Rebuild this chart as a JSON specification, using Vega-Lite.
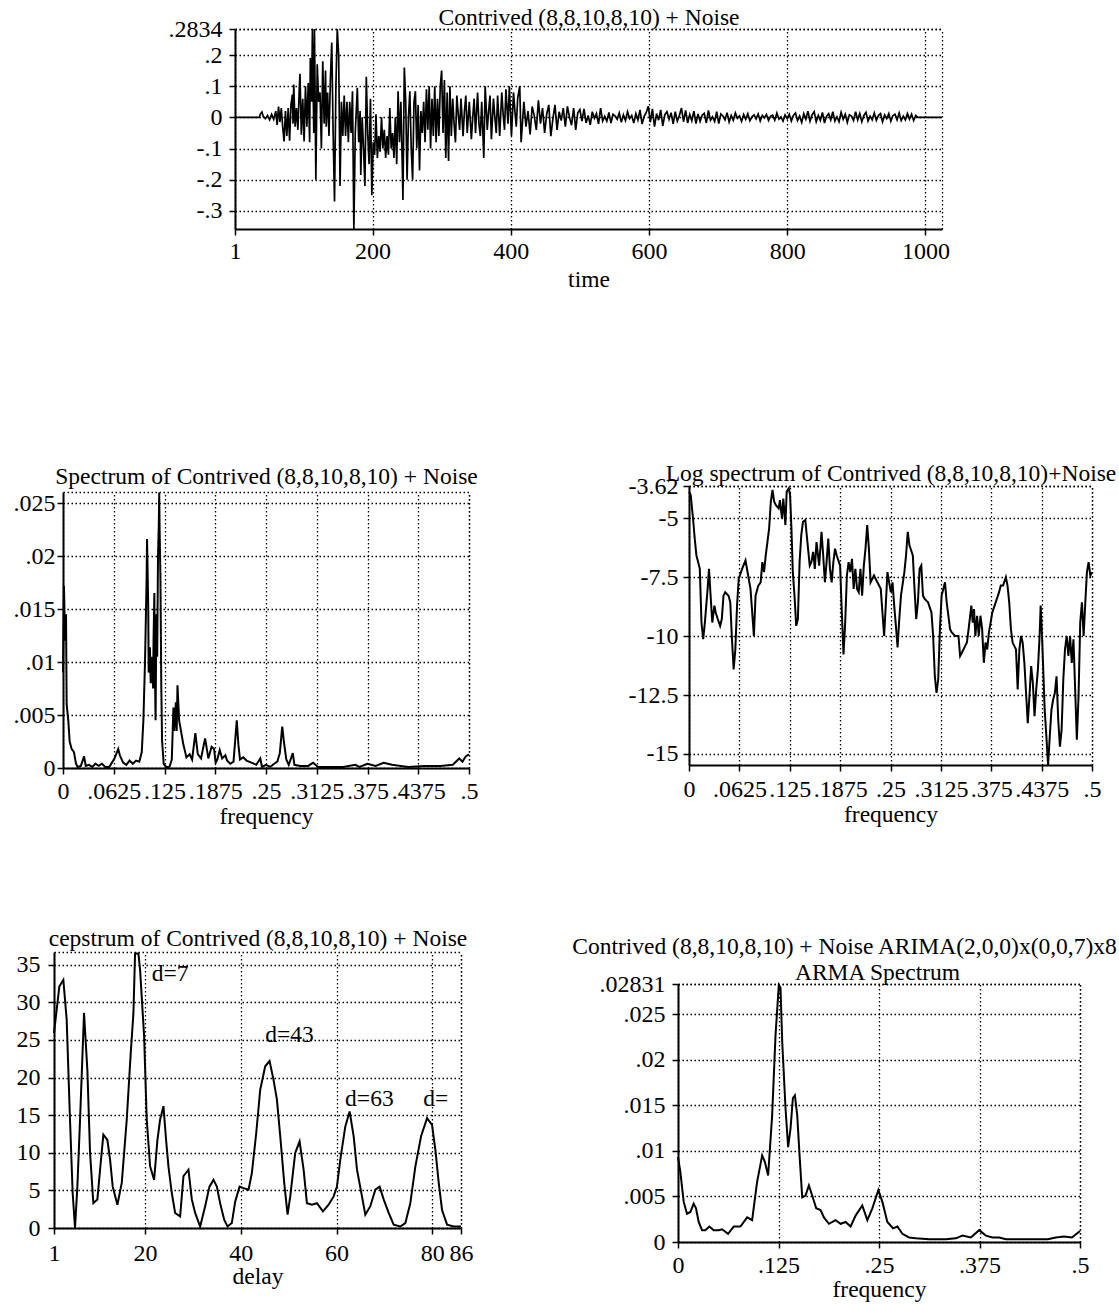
{
"$schema": "https://vega.github.io/schema/vega-lite/v6.json",
"width": 1119, "height": 1304, "autosize": "none", "padding": 0, "background": "white",
"datasets": {
"ts": [{"t":1,"v":0},{"t":36,"v":0},{"t":38,"v":0.012},{"t":40,"v":0.017},{"t":42,"v":0.002},{"t":45,"v":-0.004},{"t":48,"v":0.006},{"t":51,"v":-0.008},{"t":54,"v":0.01},{"t":57,"v":-0.006},{"t":60,"v":0.02},{"t":62,"v":-0.024},{"t":64,"v":0.035},{"t":66,"v":-0.015},{"t":68,"v":0.03},{"t":70,"v":-0.03},{"t":72,"v":-0.077},{"t":74,"v":0.02},{"t":76,"v":-0.06},{"t":78,"v":0.03},{"t":80,"v":-0.075},{"t":82,"v":0.04},{"t":84,"v":0.073},{"t":85,"v":-0.02},{"t":86,"v":0.105},{"t":88,"v":-0.03},{"t":90,"v":0.03},{"t":92,"v":-0.04},{"t":94,"v":0.09},{"t":95,"v":0.14},{"t":97,"v":-0.056},{"t":99,"v":0.06},{"t":101,"v":-0.077},{"t":103,"v":0.1},{"t":105,"v":-0.03},{"t":107,"v":0.11},{"t":109,"v":-0.08},{"t":110,"v":0.19},{"t":112,"v":0.05},{"t":113,"v":0.283},{"t":115,"v":-0.05},{"t":116,"v":0.283},{"t":118,"v":-0.2},{"t":120,"v":0.17},{"t":122,"v":0.05},{"t":124,"v":0.08},{"t":126,"v":-0.1},{"t":128,"v":0.18},{"t":130,"v":-0.02},{"t":132,"v":0.15},{"t":133,"v":-0.03},{"t":135,"v":0.08},{"t":137,"v":-0.06},{"t":139,"v":0.12},{"t":141,"v":0.24},{"t":143,"v":-0.05},{"t":145,"v":-0.27},{"t":147,"v":0.1},{"t":149,"v":0.283},{"t":151,"v":0.2},{"t":153,"v":-0.22},{"t":155,"v":0.05},{"t":157,"v":-0.06},{"t":159,"v":0.07},{"t":161,"v":-0.06},{"t":163,"v":0.05},{"t":165,"v":-0.08},{"t":167,"v":0.05},{"t":169,"v":-0.05},{"t":171,"v":0.084},{"t":173,"v":-0.358},{"t":175,"v":-0.05},{"t":178,"v":0.095},{"t":180,"v":-0.08},{"t":182,"v":0.02},{"t":183,"v":-0.185},{"t":185,"v":0},{"t":187,"v":-0.1},{"t":189,"v":-0.22},{"t":191,"v":0.13},{"t":193,"v":-0.05},{"t":195,"v":-0.15},{"t":197,"v":0.06},{"t":199,"v":-0.25},{"t":201,"v":-0.08},{"t":203,"v":-0.12},{"t":205,"v":0.01},{"t":207,"v":-0.13},{"t":209,"v":-0.06},{"t":211,"v":-0.11},{"t":213,"v":0},{"t":215,"v":-0.1},{"t":217,"v":-0.04},{"t":219,"v":-0.13},{"t":221,"v":-0.06},{"t":223,"v":-0.12},{"t":225,"v":0.03},{"t":227,"v":-0.1},{"t":229,"v":-0.05},{"t":231,"v":-0.13},{"t":233,"v":0},{"t":235,"v":-0.15},{"t":237,"v":0.084},{"t":239,"v":-0.08},{"t":241,"v":0.05},{"t":243,"v":-0.15},{"t":244,"v":-0.265},{"t":246,"v":0.16},{"t":248,"v":0.05},{"t":250,"v":-0.2},{"t":252,"v":0},{"t":254,"v":0.084},{"t":256,"v":-0.1},{"t":258,"v":-0.2},{"t":260,"v":0.05},{"t":262,"v":0.084},{"t":264,"v":-0.1},{"t":266,"v":0.04},{"t":268,"v":-0.17},{"t":270,"v":0.02},{"t":272,"v":-0.05},{"t":274,"v":0.05},{"t":276,"v":-0.08},{"t":278,"v":0.09},{"t":280,"v":-0.04},{"t":282,"v":0.1},{"t":284,"v":-0.1},{"t":286,"v":0.06},{"t":288,"v":-0.06},{"t":290,"v":0.1},{"t":292,"v":-0.08},{"t":294,"v":0.06},{"t":296,"v":-0.06},{"t":298,"v":0.1},{"t":300,"v":0.15},{"t":302,"v":-0.05},{"t":304,"v":0.12},{"t":306,"v":-0.13},{"t":308,"v":0.08},{"t":310,"v":-0.14},{"t":312,"v":0.1},{"t":314,"v":-0.06},{"t":316,"v":0.06},{"t":318,"v":-0.02},{"t":320,"v":-0.08},{"t":322,"v":0.07},{"t":324,"v":0.01},{"t":326,"v":-0.04},{"t":328,"v":0.06},{"t":331,"v":-0.06},{"t":333,"v":0.02},{"t":335,"v":0.07},{"t":337,"v":-0.05},{"t":340,"v":0.05},{"t":343,"v":-0.07},{"t":345,"v":0.0},{"t":347,"v":0.06},{"t":349,"v":-0.05},{"t":352,"v":0.08},{"t":354,"v":-0.02},{"t":356,"v":-0.06},{"t":358,"v":0.05},{"t":361,"v":-0.13},{"t":363,"v":0.1},{"t":366,"v":-0.04},{"t":368,"v":0.02},{"t":370,"v":0.07},{"t":372,"v":-0.07},{"t":375,"v":0.06},{"t":377,"v":0.0},{"t":379,"v":-0.05},{"t":381,"v":0.07},{"t":384,"v":-0.06},{"t":387,"v":0.08},{"t":389,"v":0.01},{"t":391,"v":-0.04},{"t":393,"v":0.09},{"t":396,"v":-0.02},{"t":398,"v":0.1},{"t":401,"v":-0.06},{"t":404,"v":0.08},{"t":406,"v":0.02},{"t":408,"v":-0.03},{"t":410,"v":0.06},{"t":413,"v":0.1},{"t":415,"v":-0.08},{"t":419,"v":0.05},{"t":422,"v":-0.03},{"t":425,"v":0.02},{"t":428,"v":-0.055},{"t":431,"v":0.035},{"t":434,"v":0.005},{"t":437,"v":-0.04},{"t":440,"v":0.055},{"t":443,"v":-0.02},{"t":446,"v":0.03},{"t":449,"v":-0.05},{"t":452,"v":0.01},{"t":455,"v":0.04},{"t":458,"v":-0.06},{"t":461,"v":-0.005},{"t":464,"v":0.04},{"t":467,"v":-0.04},{"t":470,"v":0.018},{"t":473,"v":-0.01},{"t":476,"v":0.03},{"t":479,"v":-0.03},{"t":482,"v":0.035},{"t":485,"v":0.0},{"t":488,"v":-0.025},{"t":491,"v":0.03},{"t":494,"v":-0.04},{"t":497,"v":0.015},{"t":500,"v":0.025},{"t":503,"v":-0.012},{"t":506,"v":0.027},{"t":509,"v":-0.018},{"t":512,"v":0.006},{"t":515,"v":-0.024},{"t":518,"v":0.018},{"t":521,"v":-0.003},{"t":524,"v":0.012},{"t":527,"v":-0.021},{"t":530,"v":0.03},{"t":533,"v":-0.012},{"t":536,"v":0.003},{"t":539,"v":-0.012},{"t":542,"v":0.016},{"t":545,"v":-0.018},{"t":548,"v":0.01},{"t":551,"v":0.004},{"t":554,"v":-0.006},{"t":557,"v":0.014},{"t":560,"v":-0.016},{"t":563,"v":0.008},{"t":566,"v":-0.01},{"t":569,"v":0.018},{"t":572,"v":-0.004},{"t":575,"v":0.006},{"t":578,"v":-0.018},{"t":581,"v":0.012},{"t":584,"v":-0.008},{"t":587,"v":0.024},{"t":590,"v":-0.021},{"t":593,"v":0.003},{"t":596,"v":0.015},{"t":599,"v":0.036},{"t":602,"v":-0.015},{"t":605,"v":0.027},{"t":608,"v":-0.03},{"t":611,"v":0.012},{"t":614,"v":-0.009},{"t":617,"v":0.024},{"t":620,"v":-0.027},{"t":623,"v":0.009},{"t":626,"v":0.018},{"t":629,"v":-0.006},{"t":632,"v":0.015},{"t":635,"v":-0.021},{"t":638,"v":0.018},{"t":641,"v":-0.012},{"t":644,"v":0.006},{"t":647,"v":0.03},{"t":650,"v":-0.014},{"t":653,"v":0.022},{"t":656,"v":-0.018},{"t":659,"v":0.009},{"t":662,"v":-0.011},{"t":665,"v":0.02},{"t":668,"v":-0.02},{"t":671,"v":0.011},{"t":674,"v":-0.013},{"t":677,"v":0.007},{"t":680,"v":0.013},{"t":683,"v":-0.018},{"t":686,"v":0.022},{"t":689,"v":-0.009},{"t":692,"v":0.002},{"t":695,"v":-0.013},{"t":698,"v":0.018},{"t":701,"v":-0.02},{"t":704,"v":0.011},{"t":707,"v":0.004},{"t":710,"v":-0.008},{"t":713,"v":0.015},{"t":716,"v":-0.015},{"t":719,"v":0.006},{"t":722,"v":-0.009},{"t":725,"v":0.014},{"t":728,"v":-0.003},{"t":731,"v":0.005},{"t":734,"v":-0.013},{"t":737,"v":0.009},{"t":740,"v":-0.006},{"t":743,"v":0.012},{"t":746,"v":-0.011},{"t":749,"v":0.002},{"t":752,"v":0.008},{"t":755,"v":-0.005},{"t":758,"v":0.011},{"t":761,"v":-0.012},{"t":764,"v":0.006},{"t":767,"v":-0.002},{"t":770,"v":0.009},{"t":773,"v":-0.01},{"t":776,"v":0.004},{"t":779,"v":0.007},{"t":782,"v":-0.009},{"t":785,"v":0.014},{"t":788,"v":-0.006},{"t":791,"v":0.001},{"t":794,"v":-0.012},{"t":797,"v":0.008},{"t":800,"v":-0.004},{"t":803,"v":0.01},{"t":806,"v":-0.012},{"t":809,"v":0.006},{"t":812,"v":0.014},{"t":815,"v":-0.01},{"t":818,"v":0.004},{"t":821,"v":-0.016},{"t":824,"v":0.012},{"t":827,"v":-0.006},{"t":830,"v":0.02},{"t":833,"v":-0.012},{"t":836,"v":0.008},{"t":839,"v":0.018},{"t":842,"v":-0.014},{"t":845,"v":0.006},{"t":848,"v":-0.01},{"t":851,"v":0.016},{"t":854,"v":-0.018},{"t":857,"v":0.004},{"t":860,"v":0.012},{"t":863,"v":-0.008},{"t":866,"v":0.018},{"t":869,"v":-0.012},{"t":872,"v":0.002},{"t":875,"v":-0.014},{"t":878,"v":0.016},{"t":881,"v":-0.006},{"t":884,"v":0.01},{"t":887,"v":-0.016},{"t":890,"v":0.008},{"t":893,"v":0.004},{"t":896,"v":-0.01},{"t":899,"v":0.018},{"t":902,"v":-0.008},{"t":905,"v":0.012},{"t":908,"v":-0.014},{"t":911,"v":0.006},{"t":914,"v":0.016},{"t":917,"v":-0.012},{"t":920,"v":0.004},{"t":923,"v":-0.008},{"t":926,"v":0.014},{"t":929,"v":-0.01},{"t":932,"v":0.006},{"t":935,"v":0.012},{"t":938,"v":-0.014},{"t":941,"v":0.008},{"t":944,"v":-0.004},{"t":947,"v":0.012},{"t":950,"v":-0.012},{"t":953,"v":0.006},{"t":956,"v":0.01},{"t":959,"v":-0.008},{"t":962,"v":0.014},{"t":965,"v":-0.01},{"t":968,"v":0.004},{"t":971,"v":-0.008},{"t":974,"v":0.012},{"t":977,"v":-0.006},{"t":980,"v":0.01},{"t":983,"v":-0.01},{"t":986,"v":0.006},{"t":989,"v":0},{"t":1024,"v":0}],
"spec": [{"f":0,"s":0.009},{"f":0.0012,"s":0.0172},{"f":0.0025,"s":0.012},{"f":0.0037,"s":0.0145},{"f":0.0045,"s":0.006},{"f":0.0065,"s":0.0045},{"f":0.0082,"s":0.0025},{"f":0.0106,"s":0.0018},{"f":0.0135,"s":0.0015},{"f":0.016,"s":0.0004},{"f":0.018,"s":0.0001},{"f":0.022,"s":0.0002},{"f":0.026,"s":0.0011},{"f":0.028,"s":0.0002},{"f":0.032,"s":0.0003},{"f":0.036,"s":0.0001},{"f":0.04,"s":0.0004},{"f":0.044,"s":0.0002},{"f":0.048,"s":0.0004},{"f":0.052,"s":0.0001},{"f":0.057,"s":0.0001},{"f":0.061,"s":0.0006},{"f":0.064,"s":0.001},{"f":0.068,"s":0.0018},{"f":0.07,"s":0.0012},{"f":0.074,"s":0.0005},{"f":0.078,"s":0.0003},{"f":0.082,"s":0.0007},{"f":0.086,"s":0.0004},{"f":0.09,"s":0.0007},{"f":0.094,"s":0.0006},{"f":0.097,"s":0.0015},{"f":0.099,"s":0.0045},{"f":0.101,"s":0.01},{"f":0.103,"s":0.018},{"f":0.1035,"s":0.0216},{"f":0.105,"s":0.015},{"f":0.1055,"s":0.009},{"f":0.107,"s":0.0114},{"f":0.108,"s":0.008},{"f":0.109,"s":0.0105},{"f":0.111,"s":0.0075},{"f":0.1115,"s":0.012},{"f":0.1125,"s":0.0165},{"f":0.113,"s":0.0105},{"f":0.114,"s":0.0045},{"f":0.115,"s":0.0145},{"f":0.116,"s":0.0105},{"f":0.117,"s":0.02},{"f":0.118,"s":0.023},{"f":0.1185,"s":0.026},{"f":0.119,"s":0.0225},{"f":0.12,"s":0.018},{"f":0.121,"s":0.008},{"f":0.122,"s":0.0026},{"f":0.124,"s":0.0004},{"f":0.127,"s":0.0001},{"f":0.131,"s":0.0001},{"f":0.134,"s":0.0008},{"f":0.136,"s":0.0057},{"f":0.137,"s":0.0035},{"f":0.139,"s":0.0062},{"f":0.14,"s":0.0035},{"f":0.141,"s":0.0078},{"f":0.143,"s":0.0045},{"f":0.146,"s":0.0032},{"f":0.148,"s":0.0023},{"f":0.152,"s":0.001},{"f":0.156,"s":0.0013},{"f":0.159,"s":0.0008},{"f":0.163,"s":0.0033},{"f":0.166,"s":0.0013},{"f":0.17,"s":0.0009},{"f":0.175,"s":0.0028},{"f":0.179,"s":0.0009},{"f":0.183,"s":0.002},{"f":0.186,"s":0.0018},{"f":0.188,"s":0.0005},{"f":0.19,"s":0.0008},{"f":0.193,"s":0.0017},{"f":0.196,"s":0.0009},{"f":0.2,"s":0.0012},{"f":0.202,"s":0.0007},{"f":0.206,"s":0.0004},{"f":0.21,"s":0.0006},{"f":0.214,"s":0.0045},{"f":0.216,"s":0.0022},{"f":0.218,"s":0.0008},{"f":0.222,"s":0.001},{"f":0.226,"s":0.0007},{"f":0.232,"s":0.0005},{"f":0.238,"s":0.0003},{"f":0.243,"s":0.0009},{"f":0.245,"s":0.0001},{"f":0.25,"s":0.0003},{"f":0.255,"s":0.0001},{"f":0.26,"s":0.0004},{"f":0.264,"s":0.0006},{"f":0.267,"s":0.0014},{"f":0.27,"s":0.0039},{"f":0.272,"s":0.0025},{"f":0.275,"s":0.0008},{"f":0.278,"s":0.0003},{"f":0.283,"s":0.0014},{"f":0.285,"s":0.0003},{"f":0.292,"s":0.0002},{"f":0.302,"s":0.0002},{"f":0.308,"s":0.0005},{"f":0.314,"s":0.0001},{"f":0.325,"s":0.0001},{"f":0.345,"s":0.0001},{"f":0.36,"s":0.0003},{"f":0.365,"s":0.0001},{"f":0.375,"s":0.0004},{"f":0.385,"s":0.0002},{"f":0.395,"s":0.0005},{"f":0.405,"s":0.0003},{"f":0.425,"s":0.0001},{"f":0.445,"s":0.0002},{"f":0.465,"s":0.0002},{"f":0.48,"s":0.0003},{"f":0.488,"s":0.0009},{"f":0.492,"s":0.0006},{"f":0.496,"s":0.0011},{"f":0.5,"s":0.0013}],
"logspec": [{"f":0,"s":-3.86},{"f":0.0021,"s":-4.0},{"f":0.005,"s":-5.0},{"f":0.0071,"s":-5.85},{"f":0.0092,"s":-6.57},{"f":0.0113,"s":-6.85},{"f":0.0134,"s":-7.14},{"f":0.0155,"s":-9.42},{"f":0.0176,"s":-10.13},{"f":0.0197,"s":-9.42},{"f":0.0231,"s":-7.99},{"f":0.0248,"s":-7.14},{"f":0.0273,"s":-8.56},{"f":0.0289,"s":-9.42},{"f":0.0315,"s":-8.7},{"f":0.0331,"s":-8.99},{"f":0.0357,"s":-9.27},{"f":0.0386,"s":-9.56},{"f":0.0407,"s":-9.27},{"f":0.0428,"s":-8.28},{"f":0.0449,"s":-8.13},{"f":0.0491,"s":-8.28},{"f":0.0512,"s":-8.56},{"f":0.0533,"s":-10.13},{"f":0.0554,"s":-11.41},{"f":0.0575,"s":-10.56},{"f":0.0596,"s":-8.7},{"f":0.0617,"s":-7.56},{"f":0.0659,"s":-7.14},{"f":0.0701,"s":-6.78},{"f":0.0734,"s":-7.42},{"f":0.0763,"s":-7.99},{"f":0.0784,"s":-8.99},{"f":0.0805,"s":-9.99},{"f":0.0826,"s":-8.28},{"f":0.086,"s":-7.85},{"f":0.0889,"s":-7.71},{"f":0.091,"s":-6.85},{"f":0.0931,"s":-7.28},{"f":0.0952,"s":-6.57},{"f":0.0973,"s":-6.0},{"f":0.0994,"s":-5.43},{"f":0.1015,"s":-4.29},{"f":0.1036,"s":-3.79},{"f":0.1057,"s":-4.29},{"f":0.1078,"s":-4.43},{"f":0.1112,"s":-4.57},{"f":0.1128,"s":-4.22},{"f":0.1154,"s":-5.0},{"f":0.117,"s":-4.15},{"f":0.1196,"s":-5.28},{"f":0.1212,"s":-3.86},{"f":0.1238,"s":-3.72},{"f":0.1254,"s":-4.0},{"f":0.1271,"s":-5.43},{"f":0.1288,"s":-7.28},{"f":0.1309,"s":-8.28},{"f":0.133,"s":-9.56},{"f":0.1351,"s":-9.27},{"f":0.1372,"s":-6.85},{"f":0.1393,"s":-5.71},{"f":0.1414,"s":-5.14},{"f":0.1443,"s":-5.07},{"f":0.1477,"s":-6.28},{"f":0.1498,"s":-7.0},{"f":0.1519,"s":-6.85},{"f":0.154,"s":-6.42},{"f":0.1561,"s":-7.14},{"f":0.1582,"s":-6.0},{"f":0.1615,"s":-7.0},{"f":0.1644,"s":-5.57},{"f":0.1665,"s":-6.57},{"f":0.1686,"s":-7.71},{"f":0.1707,"s":-6.85},{"f":0.1728,"s":-5.85},{"f":0.1749,"s":-7.14},{"f":0.177,"s":-7.71},{"f":0.1791,"s":-6.85},{"f":0.1812,"s":-6.28},{"f":0.1833,"s":-6.57},{"f":0.1875,"s":-7.0},{"f":0.1896,"s":-8.99},{"f":0.1917,"s":-10.77},{"f":0.1938,"s":-9.42},{"f":0.1959,"s":-7.42},{"f":0.198,"s":-6.85},{"f":0.2001,"s":-7.28},{"f":0.2022,"s":-6.71},{"f":0.2043,"s":-7.99},{"f":0.2064,"s":-7.14},{"f":0.2085,"s":-7.99},{"f":0.2106,"s":-8.13},{"f":0.2127,"s":-7.14},{"f":0.2148,"s":-8.28},{"f":0.2169,"s":-7.0},{"f":0.219,"s":-6.28},{"f":0.2211,"s":-5.28},{"f":0.2232,"s":-6.28},{"f":0.2253,"s":-7.71},{"f":0.2295,"s":-7.42},{"f":0.2337,"s":-7.71},{"f":0.2379,"s":-7.99},{"f":0.2421,"s":-9.99},{"f":0.2441,"s":-8.7},{"f":0.2462,"s":-7.28},{"f":0.2483,"s":-7.71},{"f":0.2504,"s":-8.13},{"f":0.2525,"s":-7.71},{"f":0.2546,"s":-8.7},{"f":0.2567,"s":-9.56},{"f":0.2588,"s":-10.48},{"f":0.2609,"s":-9.27},{"f":0.263,"s":-8.28},{"f":0.2672,"s":-7.28},{"f":0.2693,"s":-6.57},{"f":0.2714,"s":-5.57},{"f":0.2735,"s":-6.14},{"f":0.2777,"s":-6.57},{"f":0.2798,"s":-7.99},{"f":0.2819,"s":-9.27},{"f":0.284,"s":-8.56},{"f":0.2861,"s":-7.14},{"f":0.2882,"s":-7.0},{"f":0.2903,"s":-8.28},{"f":0.2924,"s":-8.42},{"f":0.2966,"s":-8.56},{"f":0.3008,"s":-8.99},{"f":0.3029,"s":-9.99},{"f":0.305,"s":-11.7},{"f":0.3071,"s":-12.41},{"f":0.3092,"s":-11.84},{"f":0.3113,"s":-9.7},{"f":0.3134,"s":-8.28},{"f":0.3176,"s":-7.71},{"f":0.3197,"s":-8.56},{"f":0.3218,"s":-9.13},{"f":0.3239,"s":-9.7},{"f":0.326,"s":-9.84},{"f":0.3302,"s":-9.99},{"f":0.3343,"s":-9.99},{"f":0.3364,"s":-10.84},{"f":0.3385,"s":-10.7},{"f":0.3427,"s":-10.41},{"f":0.3448,"s":-10.27},{"f":0.3469,"s":-9.7},{"f":0.3503,"s":-8.7},{"f":0.352,"s":-9.42},{"f":0.3536,"s":-8.85},{"f":0.3553,"s":-9.99},{"f":0.3574,"s":-9.13},{"f":0.3595,"s":-9.99},{"f":0.3616,"s":-9.13},{"f":0.3637,"s":-9.7},{"f":0.3658,"s":-11.13},{"f":0.3679,"s":-10.27},{"f":0.37,"s":-10.56},{"f":0.3721,"s":-9.84},{"f":0.3742,"s":-9.42},{"f":0.3763,"s":-8.99},{"f":0.3805,"s":-8.56},{"f":0.3847,"s":-8.13},{"f":0.3868,"s":-7.85},{"f":0.3897,"s":-7.85},{"f":0.3931,"s":-7.49},{"f":0.3952,"s":-7.85},{"f":0.3973,"s":-8.56},{"f":0.3994,"s":-9.7},{"f":0.4015,"s":-10.27},{"f":0.4057,"s":-10.56},{"f":0.4078,"s":-12.26},{"f":0.4099,"s":-10.56},{"f":0.412,"s":-9.99},{"f":0.414,"s":-10.27},{"f":0.4161,"s":-11.13},{"f":0.4182,"s":-12.41},{"f":0.4203,"s":-13.69},{"f":0.4224,"s":-12.55},{"f":0.4245,"s":-11.27},{"f":0.4266,"s":-11.98},{"f":0.4287,"s":-13.4},{"f":0.4308,"s":-12.26},{"f":0.4329,"s":-11.41},{"f":0.435,"s":-9.99},{"f":0.4363,"s":-8.7},{"f":0.438,"s":-9.99},{"f":0.4392,"s":-11.13},{"f":0.4413,"s":-13.12},{"f":0.4434,"s":-14.26},{"f":0.4455,"s":-15.47},{"f":0.4476,"s":-14.26},{"f":0.4497,"s":-13.12},{"f":0.4518,"s":-12.69},{"f":0.4539,"s":-12.41},{"f":0.456,"s":-11.7},{"f":0.4581,"s":-13.55},{"f":0.4602,"s":-14.69},{"f":0.4623,"s":-13.97},{"f":0.4644,"s":-11.84},{"f":0.4665,"s":-10.56},{"f":0.4686,"s":-9.99},{"f":0.4707,"s":-10.84},{"f":0.4728,"s":-9.99},{"f":0.4749,"s":-11.13},{"f":0.477,"s":-10.13},{"f":0.4791,"s":-12.26},{"f":0.4812,"s":-14.4},{"f":0.4833,"s":-12.55},{"f":0.4854,"s":-9.42},{"f":0.4875,"s":-8.56},{"f":0.4896,"s":-9.99},{"f":0.4917,"s":-8.56},{"f":0.4937,"s":-7.28},{"f":0.4958,"s":-6.85},{"f":0.4979,"s":-7.42},{"f":0.5,"s":-7.28}],
"cep": [{"d":1,"c":25.9},{"d":2.11,"c":32.1},{"d":2.95,"c":33.0},{"d":3.65,"c":27.7},{"d":4.34,"c":14.4},{"d":4.9,"c":4.65},{"d":5.39,"c":0},{"d":5.88,"c":5.5},{"d":6.44,"c":14.4},{"d":7.27,"c":28.6},{"d":7.97,"c":21.0},{"d":8.53,"c":10.0},{"d":9.22,"c":3.3},{"d":10.06,"c":3.8},{"d":10.62,"c":7.75},{"d":11.31,"c":12.4},{"d":12.15,"c":11.7},{"d":12.71,"c":9.1},{"d":13.26,"c":5.5},{"d":14.24,"c":3.1},{"d":15.15,"c":6.0},{"d":16.19,"c":14.4},{"d":17.03,"c":23.3},{"d":17.59,"c":28.6},{"d":17.93,"c":36.5},{"d":18.63,"c":36.5},{"d":18.98,"c":34.3},{"d":19.82,"c":25.5},{"d":20.37,"c":14.4},{"d":21.07,"c":8.2},{"d":21.91,"c":6.4},{"d":22.6,"c":11.7},{"d":23.16,"c":14.4},{"d":23.86,"c":16.2},{"d":24.41,"c":11.7},{"d":24.9,"c":8.2},{"d":25.6,"c":4.65},{"d":26.3,"c":2.0},{"d":27.34,"c":1.55},{"d":28.04,"c":6.9},{"d":29.08,"c":7.75},{"d":29.78,"c":3.8},{"d":30.48,"c":2.0},{"d":31.52,"c":0.2},{"d":32.57,"c":2.9},{"d":33.47,"c":5.5},{"d":34.31,"c":6.4},{"d":35.01,"c":5.5},{"d":35.7,"c":3.3},{"d":36.54,"c":1.1},{"d":37.24,"c":0.2},{"d":38.14,"c":0.66},{"d":38.84,"c":3.5},{"d":39.75,"c":5.5},{"d":40.58,"c":5.3},{"d":41.63,"c":5.1},{"d":42.32,"c":7.3},{"d":43.23,"c":12.6},{"d":44.07,"c":18.4},{"d":45.11,"c":21.5},{"d":46.02,"c":22.2},{"d":46.85,"c":19.7},{"d":47.55,"c":17.1},{"d":48.25,"c":12.2},{"d":49.08,"c":6.0},{"d":49.78,"c":1.77},{"d":50.34,"c":4.2},{"d":51.38,"c":10.0},{"d":52.29,"c":11.5},{"d":53.13,"c":7.75},{"d":53.82,"c":3.3},{"d":54.87,"c":3.1},{"d":55.91,"c":3.3},{"d":57.17,"c":2.2},{"d":58.35,"c":3.1},{"d":59.4,"c":4.2},{"d":60.09,"c":5.5},{"d":60.79,"c":9.1},{"d":61.84,"c":13.5},{"d":62.74,"c":15.5},{"d":63.58,"c":12.2},{"d":64.28,"c":7.75},{"d":65.32,"c":4.2},{"d":66.02,"c":1.77},{"d":67.06,"c":2.9},{"d":68.11,"c":5.1},{"d":69.01,"c":5.5},{"d":69.85,"c":3.8},{"d":70.9,"c":2.0},{"d":71.94,"c":0.44},{"d":73.33,"c":0.2},{"d":74.38,"c":0.66},{"d":75.42,"c":3.3},{"d":76.47,"c":8.2},{"d":77.66,"c":12.2},{"d":78.91,"c":14.6},{"d":79.95,"c":13.7},{"d":80.65,"c":10.4},{"d":81.35,"c":6.0},{"d":82.04,"c":2.4},{"d":83.09,"c":0.44},{"d":84.48,"c":0.2},{"d":86,"c":0.2}],
"arma": [{"f":0,"s":0.00935},{"f":0.0029,"s":0.0077},{"f":0.0071,"s":0.0044},{"f":0.0112,"s":0.0031},{"f":0.0154,"s":0.0033},{"f":0.0195,"s":0.0042},{"f":0.0224,"s":0.0037},{"f":0.0257,"s":0.0022},{"f":0.0299,"s":0.0013},{"f":0.034,"s":0.0013},{"f":0.039,"s":0.0017},{"f":0.0444,"s":0.0013},{"f":0.0507,"s":0.0013},{"f":0.0548,"s":0.0014},{"f":0.0623,"s":0.0009},{"f":0.0694,"s":0.0017},{"f":0.0777,"s":0.0017},{"f":0.086,"s":0.0027},{"f":0.0922,"s":0.0024},{"f":0.0984,"s":0.0066},{"f":0.1047,"s":0.0095},{"f":0.108,"s":0.0088},{"f":0.1121,"s":0.0073},{"f":0.1171,"s":0.0139},{"f":0.1213,"s":0.0227},{"f":0.1254,"s":0.0282},{"f":0.1275,"s":0.0279},{"f":0.1296,"s":0.022},{"f":0.1337,"s":0.0147},{"f":0.137,"s":0.0104},{"f":0.14,"s":0.0125},{"f":0.1429,"s":0.0158},{"f":0.1454,"s":0.0161},{"f":0.1483,"s":0.0139},{"f":0.1512,"s":0.0095},{"f":0.1545,"s":0.0049},{"f":0.1586,"s":0.0051},{"f":0.1628,"s":0.0062},{"f":0.1669,"s":0.0051},{"f":0.1719,"s":0.0037},{"f":0.1773,"s":0.0035},{"f":0.1815,"s":0.0027},{"f":0.1877,"s":0.002},{"f":0.196,"s":0.0024},{"f":0.2023,"s":0.002},{"f":0.2085,"s":0.0022},{"f":0.2147,"s":0.0017},{"f":0.2209,"s":0.0029},{"f":0.2292,"s":0.004},{"f":0.2355,"s":0.0024},{"f":0.2417,"s":0.0037},{"f":0.2492,"s":0.0057},{"f":0.2542,"s":0.0044},{"f":0.2604,"s":0.0022},{"f":0.2675,"s":0.0015},{"f":0.2729,"s":0.0017},{"f":0.2791,"s":0.0009},{"f":0.2874,"s":0.0005},{"f":0.2957,"s":0.0004},{"f":0.3123,"s":0.0003},{"f":0.3331,"s":0.0003},{"f":0.3455,"s":0.0004},{"f":0.3538,"s":0.0007},{"f":0.3642,"s":0.0005},{"f":0.3746,"s":0.0013},{"f":0.3829,"s":0.0007},{"f":0.3912,"s":0.0005},{"f":0.3995,"s":0.0005},{"f":0.4078,"s":0.0003},{"f":0.4327,"s":0.0003},{"f":0.46,"s":0.0003},{"f":0.47,"s":0.0005},{"f":0.48,"s":0.0006},{"f":0.49,"s":0.0005},{"f":0.5,"s":0.0012}],
"notes": [{"d":21.4,"c":33.8,"label":"d=7"},{"d":45.1,"c":25.7,"label":"d=43"},{"d":61.8,"c":17.1,"label":"d=63"},{"d":78.1,"c":17.1,"label":"d="}]
},
"layer": [
{"data":{"name":"ts"},"mark":{"type":"line","color":"black","strokeWidth":1.7},
 "encoding":{
  "x":{"field":"t","type":"quantitative","scale":{"domain":[1,1024],"range":[235,942],"nice":false,"zero":false},
   "axis":{"orient":"bottom","offset":-1075,"values":[1,200,400,600,800,1000],"grid":false,"labelPadding":23,"labelBaseline":"alphabetic","title":"time","titleY":57,"labelExpr":"replace(toString(datum.value), '0.', '.')"}},
  "y":{"field":"v","type":"quantitative","scale":{"domain":[-0.358,0.2834],"range":[229,29],"nice":false,"zero":false},
   "axis":{"orient":"left","offset":-235,"values":[-0.3,-0.2,-0.1,0,0.1,0.2,0.2834],"grid":true,"labelPadding":7,"title":null,"labelExpr":"replace(toString(datum.value), '0.', '.')"}}}},
{"data":{"name":"ts"},"mark":{"type":"point","opacity":0},
 "encoding":{
  "x":{"field":"t","type":"quantitative","scale":{"domain":[1,1024],"range":[235,942],"nice":false,"zero":false},
   "axis":{"orient":"top","offset":-29,"values":[1,200,400,600,800,1000],"grid":true,"labels":false,"ticks":false,"domainDash":[1.5,2.5],"domainWidth":1.3,"title":"Contrived (8,8,10,8,10) + Noise","titleY":-5}},
  "y":{"field":"v","type":"quantitative","scale":{"domain":[-0.358,0.2834],"range":[229,29],"nice":false,"zero":false},
   "axis":{"orient":"right","offset":-177,"grid":false,"labels":false,"ticks":false,"domainDash":[1.5,2.5],"domainWidth":1.3,"title":null}}}},
{"data":{"name":"spec"},"mark":{"type":"line","color":"black","strokeWidth":2},
 "encoding":{
  "x":{"field":"f","type":"quantitative","scale":{"domain":[0,0.5],"range":[63,469],"nice":false,"zero":false},
   "axis":{"orient":"bottom","offset":-536,"values":[0,0.0625,0.125,0.1875,0.25,0.3125,0.375,0.4375,0.5],"grid":false,"labelPadding":24,"labelBaseline":"alphabetic","title":"frequency","titleY":55,"labelExpr":"replace(toString(datum.value), '0.', '.')"}},
  "y":{"field":"s","type":"quantitative","scale":{"domain":[0,0.02604],"range":[768,492],"nice":false,"zero":false},
   "axis":{"orient":"left","offset":-63,"values":[0,0.005,0.01,0.015,0.02,0.025],"grid":true,"labelPadding":2,"title":null,"labelExpr":"replace(toString(datum.value), '0.', '.')"}}}},
{"data":{"name":"spec"},"mark":{"type":"point","opacity":0},
 "encoding":{
  "x":{"field":"f","type":"quantitative","scale":{"domain":[0,0.5],"range":[63,469],"nice":false,"zero":false},
   "axis":{"orient":"top","offset":-492,"values":[0,0.0625,0.125,0.1875,0.25,0.3125,0.375,0.4375,0.5],"grid":true,"labels":false,"ticks":false,"domainDash":[1.5,2.5],"domainWidth":1.3,"title":"Spectrum of Contrived (8,8,10,8,10) + Noise","titleY":-9}},
  "y":{"field":"s","type":"quantitative","scale":{"domain":[0,0.02604],"range":[768,492],"nice":false,"zero":false},
   "axis":{"orient":"right","offset":-650,"grid":false,"labels":false,"ticks":false,"domainDash":[1.5,2.5],"domainWidth":1.3,"title":null}}}},
{"data":{"name":"logspec"},"mark":{"type":"line","color":"black","strokeWidth":2},
 "encoding":{
  "x":{"field":"f","type":"quantitative","scale":{"domain":[0,0.5],"range":[689,1092],"nice":false,"zero":false},
   "axis":{"orient":"bottom","offset":-539,"values":[0,0.0625,0.125,0.1875,0.25,0.3125,0.375,0.4375,0.5],"grid":false,"labelPadding":25,"labelBaseline":"alphabetic","title":"frequency","titleY":56,"labelExpr":"replace(toString(datum.value), '0.', '.')"}},
  "y":{"field":"s","type":"quantitative","scale":{"domain":[-15.47,-3.62],"range":[765,486],"nice":false,"zero":false},
   "axis":{"orient":"left","offset":-689,"values":[-15,-12.5,-10,-7.5,-5,-3.62],"grid":true,"labelPadding":5,"title":null,"labelExpr":"replace(toString(datum.value), '0.', '.')"}}}},
{"data":{"name":"logspec"},"mark":{"type":"point","opacity":0},
 "encoding":{
  "x":{"field":"f","type":"quantitative","scale":{"domain":[0,0.5],"range":[689,1092],"nice":false,"zero":false},
   "axis":{"orient":"top","offset":-486,"values":[0,0.0625,0.125,0.1875,0.25,0.3125,0.375,0.4375,0.5],"grid":true,"labels":false,"ticks":false,"domainDash":[1.5,2.5],"domainWidth":1.3,"title":"Log spectrum of Contrived (8,8,10,8,10)+Noise","titleY":-6}},
  "y":{"field":"s","type":"quantitative","scale":{"domain":[-15.47,-3.62],"range":[765,486],"nice":false,"zero":false},
   "axis":{"orient":"right","offset":-27,"grid":false,"labels":false,"ticks":false,"domainDash":[1.5,2.5],"domainWidth":1.3,"title":null}}}},
{"data":{"name":"cep"},"mark":{"type":"line","color":"black","strokeWidth":2},
 "encoding":{
  "x":{"field":"d","type":"quantitative","scale":{"domain":[1,86],"range":[54,461],"nice":false,"zero":false},
   "axis":{"orient":"bottom","offset":-76,"values":[1,20,40,60,80,86],"grid":false,"labelPadding":26,"labelBaseline":"alphabetic","title":"delay","titleY":55,"labelExpr":"toString(datum.value)"}},
  "y":{"field":"c","type":"quantitative","scale":{"domain":[0,36.7],"range":[1228,952],"nice":false,"zero":false},
   "axis":{"orient":"left","offset":-54,"values":[0,5,10,15,20,25,30,35],"grid":true,"labelPadding":8,"title":null,"labelExpr":"toString(datum.value)"}}}},
{"data":{"name":"notes"},"mark":{"type":"text","align":"left","baseline":"middle","font":"Liberation Serif","fontSize":23.5,"color":"black"},
 "encoding":{
  "x":{"field":"d","type":"quantitative","scale":{"domain":[1,86],"range":[54,461],"nice":false,"zero":false},
   "axis":{"orient":"top","offset":-952,"values":[1,20,40,60,80,86],"grid":true,"labels":false,"ticks":false,"domainDash":[1.5,2.5],"domainWidth":1.3,"title":"cepstrum of Contrived (8,8,10,8,10) + Noise","titleY":-7}},
  "y":{"field":"c","type":"quantitative","scale":{"domain":[0,36.7],"range":[1228,952],"nice":false,"zero":false},
   "axis":{"orient":"right","offset":-658,"grid":false,"labels":false,"ticks":false,"domainDash":[1.5,2.5],"domainWidth":1.3,"title":null}},
  "text":{"field":"label"}}},
{"data":{"name":"arma"},"mark":{"type":"line","color":"black","strokeWidth":2},
 "encoding":{
  "x":{"field":"f","type":"quantitative","scale":{"domain":[0,0.5],"range":[678,1080],"nice":false,"zero":false},
   "axis":{"orient":"bottom","offset":-62,"values":[0,0.125,0.25,0.375,0.5],"grid":false,"labelPadding":24,"labelBaseline":"alphabetic","title":"frequency","titleY":54,"labelExpr":"replace(toString(datum.value), '0.', '.')"}},
  "y":{"field":"s","type":"quantitative","scale":{"domain":[0,0.02831],"range":[1242,984],"nice":false,"zero":false},
   "axis":{"orient":"left","offset":-678,"values":[0,0.005,0.01,0.015,0.02,0.025,0.02831],"grid":true,"labelPadding":7,"labelExpr":"replace(toString(datum.value), '0.', '.')","title":"ARMA Spectrum","titleAngle":0,"titleAlign":"center","titleBaseline":"alphabetic","titleX":199,"titleY":979}}}},
{"data":{"name":"arma"},"mark":{"type":"point","opacity":0},
 "encoding":{
  "x":{"field":"f","type":"quantitative","scale":{"domain":[0,0.5],"range":[678,1080],"nice":false,"zero":false},
   "axis":{"orient":"top","offset":-984,"values":[0,0.125,0.25,0.375,0.5],"grid":true,"labels":false,"ticks":false,"domainDash":[1.5,2.5],"domainWidth":1.3,"title":"Contrived (8,8,10,8,10) + Noise ARIMA(2,0,0)x(0,0,7)x8","titleX":844,"titleY":-31}},
  "y":{"field":"s","type":"quantitative","scale":{"domain":[0,0.02831],"range":[1242,984],"nice":false,"zero":false},
   "axis":{"orient":"right","offset":-39,"grid":false,"labels":false,"ticks":false,"domainDash":[1.5,2.5],"domainWidth":1.3,"title":null}}}}
],
"resolve": {"scale": {"x": "independent", "y": "independent"}},
"config": {
 "view": {"stroke": null},
 "axis": {"labelFont": "Liberation Serif", "labelFontSize": 24, "labelColor": "black", "labelFontWeight": "normal",
  "titleFont": "Liberation Serif", "titleFontSize": 23.5, "titleColor": "black", "titleFontWeight": "normal", "titleBaseline": "alphabetic",
  "domainColor": "black", "domainWidth": 2, "tickColor": "black", "tickWidth": 1.5, "tickSize": 6,
  "gridColor": "black", "gridDash": [1.5,2.5], "gridWidth": 1.3, "gridOpacity": 1,
  "labelOverlap": false, "labelFlush": false, "labelBound": false}
}
}
